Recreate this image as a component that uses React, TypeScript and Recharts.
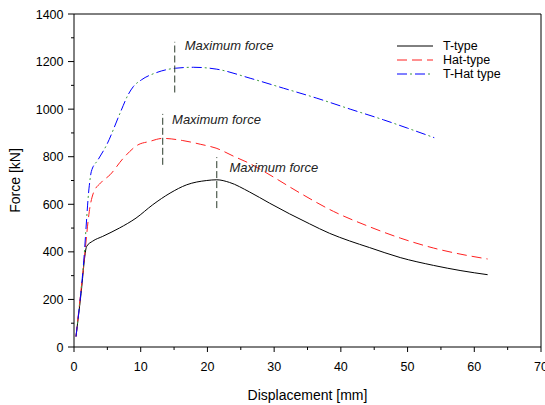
import React from 'react';
import { LineChart, Line, XAxis, YAxis, ReferenceLine, ReferenceDot, Legend, Label } from 'recharts';

// Displacement [mm] / Force [kN]
const tTypeDisp = [0.3, 1.0, 1.9, 2.8, 4.3, 6.8, 9.3, 11.8, 14.4, 16.9, 19.9, 21.4, 23.3, 26.3, 29.3, 32.3, 35.3, 38.3, 41.3, 44.3, 48.9, 53.9, 58.0, 62.0];
const tTypeForce = [44, 210, 423, 445, 465, 500, 542, 598, 647, 682, 700, 703, 692, 652, 605, 560, 518, 478, 446, 418, 376, 343, 321, 304];

const hatTypeDisp = [0.3, 1.4, 2.4, 2.9, 4.0, 5.4, 7.4, 9.6, 11.3, 13.3, 16.3, 19.0, 21.3, 24.0, 26.3, 28.9, 33.9, 38.9, 43.9, 48.9, 53.9, 58.0, 62.0];
const hatTypeForce = [44, 330, 590, 647, 690, 724, 794, 850, 864, 877, 868, 852, 836, 801, 772, 731, 647, 570, 510, 458, 416, 390, 370];

const tHatTypeDisp = [0.3, 1.4, 2.3, 2.6, 3.6, 4.9, 6.9, 8.1, 8.9, 10.1, 12.4, 15.2, 17.9, 21.4, 26.4, 31.4, 36.4, 41.4, 46.4, 50.0, 54.0];
const tHatTypeForce = [44, 340, 680, 738, 787, 850, 983, 1060, 1095, 1123, 1154, 1172, 1176, 1168, 1130, 1088, 1046, 1000, 955, 920, 880];

const seriesNames = ['T-type', 'Hat-type', 'T-Hat type'];

// "Maximum force" markers (T-type, Hat-type, T-Hat type)
const maxForceDisp = [21.4, 13.3, 15.1];
const maxForceLow = [584, 766, 1070];
const maxForceHigh = [798, 980, 1283];
const maxLabelDisp = [23.3, 14.7, 16.6];
const maxLabelForce = [756, 955, 1267];
const maxLabelText = 'Maximum force';

const xMajorTicks = [0, 10, 20, 30, 40, 50, 60, 70];
const xMinorTicks = [5, 15, 25, 35, 45, 55, 65];
const yMajorTicks = [0, 200, 400, 600, 800, 1000, 1200, 1400];
const yMinorTicks = [100, 300, 500, 700, 900, 1100, 1300];

const toPoints = (xs: number[], ys: number[]) => xs.map((x, i) => ({ disp: x, force: ys[i] }));

const tTypeData = toPoints(tTypeDisp, tTypeForce);
const hatTypeData = toPoints(hatTypeDisp, hatTypeForce);
const tHatTypeData = toPoints(tHatTypeDisp, tHatTypeForce);

const xTicks = [...xMajorTicks, ...xMinorTicks].sort((a, b) => a - b);
const yTicks = [...yMajorTicks, ...yMinorTicks].sort((a, b) => a - b);

const FONT = '"Liberation Sans", Arial, sans-serif';
const GREEN = '#3f9a3f';

const XTick = (props: any) => {
  const { x, y, payload } = props;
  const major = xMajorTicks.includes(payload.value);
  return (
    <g>
      <line x1={x} y1={y} x2={x} y2={y + (major ? 5 : 3)} stroke="#000" />
      {major && (
        <text x={x} y={y + 24} textAnchor="middle" fontSize={12.5} fill="#000">
          {payload.value}
        </text>
      )}
    </g>
  );
};

const YTick = (props: any) => {
  const { x, y, payload } = props;
  const major = yMajorTicks.includes(payload.value);
  return (
    <g>
      <line x1={x - (major ? 6 : 3)} y1={y} x2={x} y2={y} stroke="#000" />
      {major && (
        <text x={x - 10.5} y={y + 4.5} textAnchor="end" fontSize={12.5} fill="#000">
          {payload.value}
        </text>
      )}
    </g>
  );
};

const renderLegend = () => (
  <div style={{ fontFamily: FONT, fontSize: 12.5, color: '#000' }}>
    {seriesNames.map((name, i) => (
      <div key={name} style={{ display: 'flex', alignItems: 'center', height: 14 }}>
        <svg width={48} height={14}>
          {i === 0 && <line x1={2} y1={7} x2={38} y2={7} stroke="#000" />}
          {i === 1 && <line x1={2} y1={7} x2={38} y2={7} stroke="#ff2020" strokeDasharray="10 5" />}
          {i === 2 && (
            <>
              <line x1={2} y1={7} x2={38} y2={7} stroke="#0000ff" strokeDasharray="10 8" />
              <line x1={2} y1={7} x2={38} y2={7} stroke={GREEN} strokeDasharray="0 13 2 3" />
            </>
          )}
        </svg>
        <span style={{ lineHeight: '14px' }}>{name}</span>
      </div>
    ))}
  </div>
);

export default function App() {
  return (
    <div style={{ position: 'absolute', left: 0, top: 0, fontFamily: FONT }}>
      <LineChart width={545} height={405} margin={{ top: 14, right: 4, left: 0, bottom: 0 }}>
        <XAxis
          dataKey="disp"
          type="number"
          domain={[0, 70]}
          ticks={xTicks}
          interval={0}
          tick={<XTick />}
          tickLine={false}
          tickSize={0}
          tickMargin={0}
          height={58}
          axisLine={{ stroke: '#000' }}
          allowDuplicatedCategory={false}
        >
          <Label value="Displacement [mm]" position="insideBottom" offset={5} style={{ fontSize: 14, fill: '#000' }} />
        </XAxis>
        <YAxis
          type="number"
          domain={[0, 1400]}
          ticks={yTicks}
          interval={0}
          tick={<YTick />}
          tickLine={false}
          tickSize={0}
          tickMargin={0}
          width={74}
          axisLine={{ stroke: '#000' }}
        >
          <Label value="Force [kN]" angle={-90} position="insideLeft" offset={15} style={{ fontSize: 14, fill: '#000', textAnchor: 'middle' }} />
        </YAxis>

        <ReferenceLine y={1400} stroke="#000" />
        <ReferenceLine x={70} stroke="#000" />

        <Line data={tTypeData} dataKey="force" name={seriesNames[0]} type="monotone" stroke="#000" strokeWidth={1} dot={false} isAnimationActive={false} />
        <Line data={hatTypeData} dataKey="force" name={seriesNames[1]} type="monotone" stroke="#ff2020" strokeWidth={1} strokeDasharray="10 5" dot={false} isAnimationActive={false} />
        <Line data={tHatTypeData} dataKey="force" name={seriesNames[2]} type="monotone" stroke="#0000ff" strokeWidth={1} strokeDasharray="10 8" dot={false} isAnimationActive={false} />
        <Line data={tHatTypeData} dataKey="force" name="T-Hat dots" legendType="none" type="monotone" stroke={GREEN} strokeWidth={1} strokeDasharray="0 13 2 3" dot={false} isAnimationActive={false} />

        {maxForceDisp.map((d, i) => (
          <ReferenceLine
            key={'m' + i}
            segment={[{ x: d, y: maxForceLow[i] }, { x: d, y: maxForceHigh[i] }]}
            stroke="#2a3a2a"
            strokeDasharray="7 3"
          />
        ))}
        {maxLabelDisp.map((d, i) => (
          <ReferenceDot
            key={'l' + i}
            x={d}
            y={maxLabelForce[i]}
            r={0}
            fill="none"
            stroke="none"
            label={{ value: maxLabelText, position: 'right', offset: 0, fontSize: 13, fontStyle: 'italic', fill: '#222' }}
          />
        ))}

        <Legend
          layout="horizontal"
          verticalAlign="middle"
          align="center"
          content={renderLegend}
          wrapperStyle={{ position: 'absolute', top: 39, left: 395, width: 'auto', height: 'auto' }}
        />
      </LineChart>
    </div>
  );
}
